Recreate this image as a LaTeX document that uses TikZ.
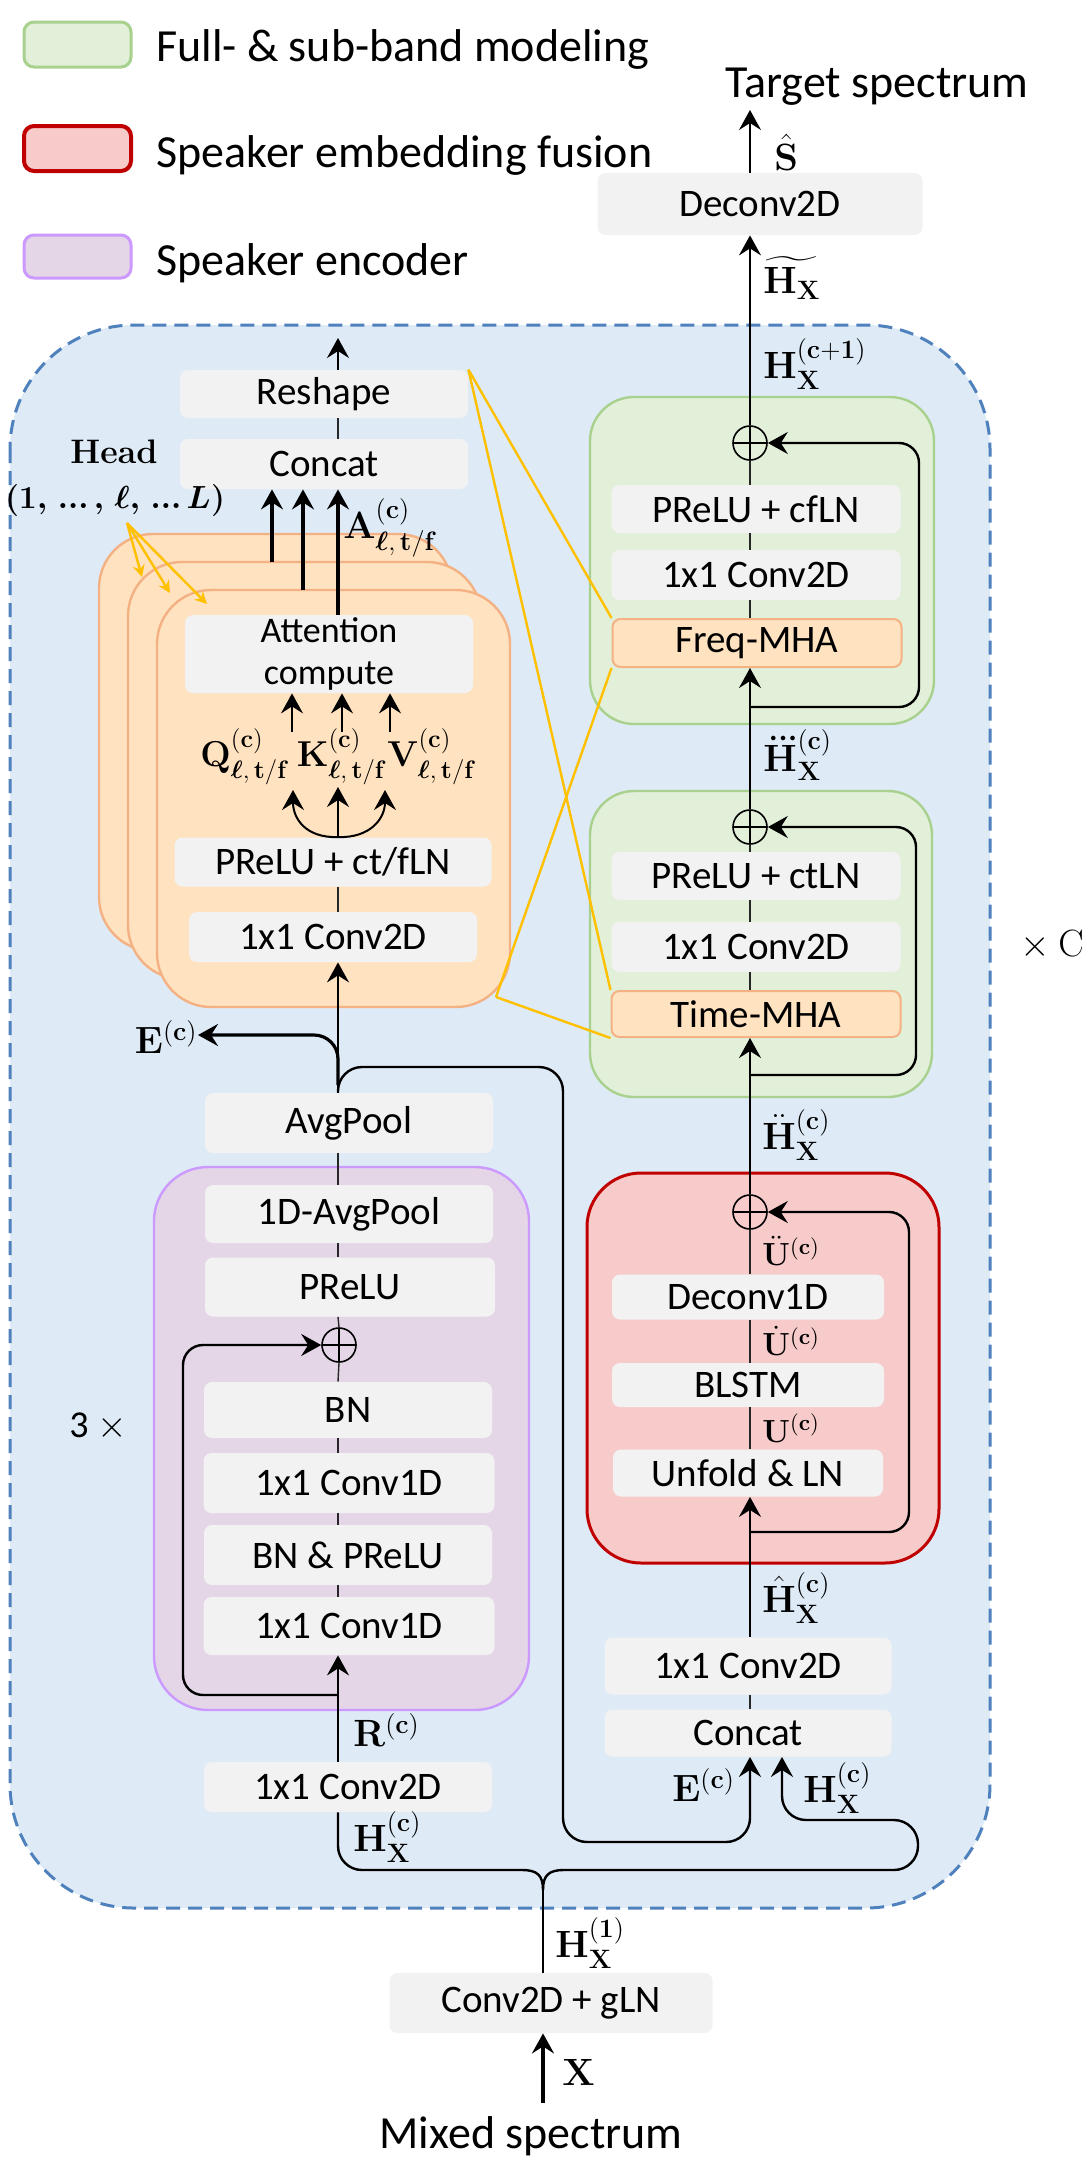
\documentclass[tikz,border=0pt]{standalone}
\usepackage{fix-cm}
\usepackage{amsmath}
\usepackage{bm}
\usepackage[no-math]{fontspec}
\setmainfont{Carlito}
\usetikzlibrary{arrows.meta}
\definecolor{boxgray}{HTML}{F2F2F2}
\definecolor{bgblue}{HTML}{DEEBF7}
\definecolor{dashblue}{HTML}{4F81BD}
\definecolor{grfill}{HTML}{E2F0D9}
\definecolor{grdraw}{HTML}{A9D18E}
\definecolor{rdfill}{HTML}{F8CBCB}
\definecolor{rddraw}{HTML}{C00000}
\definecolor{pufill}{HTML}{E4D5E7}
\definecolor{pudraw}{HTML}{CC99FF}
\definecolor{orfill}{HTML}{FFE2C0}
\definecolor{ordraw}{HTML}{F4B183}
\definecolor{yel}{HTML}{FFC000}
\newcommand{\HXc}[2]{#1{\mathbf{H}}_{\mathbf{X}}^{(\mathbf{#2})}}
\newcommand{\headrange}{$\bm{(1,\,...\,,\,\ell,\,...\,L)}$}
\begin{document}
\begin{tikzpicture}[x=0.5pt,y=-0.5pt,
  blk/.style={fill=boxgray, rounded corners=4pt, inner sep=0pt, text=black, font=\fontsize{19.5}{22}\selectfont},
  sz/.style 2 args={minimum width=#1*0.5pt, minimum height=#2*0.5pt},
  mha/.style={blk, fill=orfill, draw=ordraw, line width=1pt},
  lbl/.style={inner sep=0pt, anchor=west, font=\fontsize{19}{21}\selectfont},
  ulbl/.style={inner sep=0pt, anchor=west, font=\fontsize{16}{18}\selectfont},
  qkv/.style={inner sep=0pt, anchor=center, font=\fontsize{18}{20}\selectfont},
  leg/.style={inner sep=0pt, anchor=base west, font=\fontsize{23}{26}\selectfont},
  conn/.style={line width=0.7pt, draw=black!85},
  arr/.style={line width=1pt, -{Stealth[length=10pt,width=11pt,inset=3.5pt]}},
  tarr/.style={line width=1.6pt, -{Stealth[length=10pt,width=11pt,inset=3.5pt]}},
  skiparr/.style={line width=1.2pt, rounded corners=10pt, -{Stealth[length=10pt,width=11pt,inset=3.5pt]}},
  addop/.style={circle, draw, line width=0.8pt, minimum size=17pt, inner sep=0pt,
    path picture={\draw[line width=0.8pt] (path picture bounding box.north) -- (path picture bounding box.south) (path picture bounding box.west) -- (path picture bounding box.east);}},
  yl/.style={draw=yel, line width=1.2pt},
]
\fill[white] (0,0) rectangle (1086,2158);
\useasboundingbox (0,0) rectangle (1086,2158);

% big dashed background
\draw[fill=bgblue, draw=dashblue, line width=1.5pt, dash pattern=on 7pt off 4pt, rounded corners=62pt] (10,325) rectangle (990,1908);

% legend
\draw[fill=grfill, draw=grdraw, line width=1.5pt, rounded corners=5pt] (24,22) rectangle (131,67);
\draw[fill=rdfill, draw=rddraw, line width=2pt, rounded corners=5pt] (24,126) rectangle (131,171);
\draw[fill=pufill, draw=pudraw, line width=1.5pt, rounded corners=5pt] (24,235) rectangle (131,278);
\node[leg] (lg1) at (156,61) {Full- \& sub-band modeling};
\node[leg] (lg2) at (156,167) {Speaker embedding fusion};
\node[leg] (lg3) at (156,275) {Speaker encoder};

% regions
\draw[fill=grfill, draw=grdraw, line width=1.2pt, rounded corners=22pt] (590,397) rectangle (934,724);
\draw[fill=grfill, draw=grdraw, line width=1.2pt, rounded corners=22pt] (590,791) rectangle (932,1097);
\draw[fill=rdfill, draw=rddraw, line width=1.5pt, rounded corners=27pt] (587,1173) rectangle (939,1563);
\draw[fill=pufill, draw=pudraw, line width=1.2pt, rounded corners=27pt] (154,1167) rectangle (529,1710);
\draw[fill=orfill, draw=ordraw, line width=1.2pt, rounded corners=27pt] (99,534) rectangle (452,951);
\draw[fill=orfill, draw=ordraw, line width=1.2pt, rounded corners=27pt] (128,562) rectangle (481,979);
\draw[fill=orfill, draw=ordraw, line width=1.2pt, rounded corners=27pt] (157,590) rectangle (510,1007);

% column coordinates
\coordinate (Lx) at (338,0);
\coordinate (Rx) at (750,0);
\coordinate (Bx) at (543,0);
\coordinate (Hx) at (782,0);

% right column nodes
\node[blk, sz={325}{62}] (deconv) at (760,204) {Deconv2D};
\node[blk, sz={289}{48}] (preluF) at (756,509) {PReLU + cfLN};
\node[blk, sz={289}{50}] (convF) at (756,575) {1x1 Conv2D};
\node[mha, sz={289}{48}] (freq) at (757,643) {Freq-MHA};
\node[blk, sz={289}{48}] (preluT) at (756,876) {PReLU + ctLN};
\node[blk, sz={289}{50}] (convT) at (756,947) {1x1 Conv2D};
\node[mha, sz={289}{46}] (time) at (756,1014) {Time-MHA};
\node[blk, sz={272}{45}] (deconv1) at (748,1297) {Deconv1D};
\node[blk, sz={272}{44}] (blstm) at (748,1385) {BLSTM};
\node[blk, sz={270}{47}] (unfold) at (748,1473) {Unfold \& LN};
\node[blk, sz={287}{57}] (convR) at (748,1666) {1x1 Conv2D};
\node[blk, sz={287}{47}] (concatR) at (748,1733) {Concat};
\node[blk, sz={323}{60}] (gln) at (551,2003) {Conv2D + gLN};

% left column nodes
\node[blk, sz={288}{48}] (reshape) at (324,394) {Reshape};
\node[blk, sz={288}{50}] (concatL) at (324,464) {Concat};
\node[blk, sz={288}{78}, align=center, font=\fontsize{18}{21}\selectfont] (attn) at (329,654) {Attention\\compute};
\node[blk, sz={317}{49}] (prelu1) at (333,862) {PReLU + ct/fLN};
\node[blk, sz={288}{50}] (convA) at (333,937) {1x1 Conv2D};
\node[blk, sz={288}{60}] (avgpool) at (349,1123) {AvgPool};
\node[blk, sz={288}{58}] (avg1d) at (349,1214) {1D-AvgPool};
\node[blk, sz={290}{59}] (preluE) at (350,1287) {PReLU};
\node[blk, sz={288}{56}] (bn) at (348,1410) {BN};
\node[blk, sz={291}{60}] (c1d1) at (349,1483) {1x1 Conv1D};
\node[blk, sz={288}{60}] (bnprelu) at (348,1555) {BN \& PReLU};
\node[blk, sz={291}{58}] (c1d2) at (349,1626) {1x1 Conv1D};
\node[blk, sz={288}{50}] (conv2dL) at (348,1787) {1x1 Conv2D};

% adders
\node[addop] (pF) at (750,443) {};
\node[addop] (pT) at (750,827) {};
\node[addop] (pR) at (750,1212) {};
\node[addop] (pE) at (339,1345) {};

% texts
\node[leg, anchor=base] (tgt) at (877,97) {Target spectrum};
\node[leg, anchor=base] (mix) at (531,2148) {Mixed spectrum};

% named free ends
\coordinate (tgtin) at (750,110);
\coordinate (mixout) at (543,2103);
\coordinate (sF) at (750,707);
\coordinate (sT) at (750,1075);
\coordinate (sR) at (750,1532);
\coordinate (sE) at (338,1695);
\coordinate (rsOut) at (338,338);
\coordinate (t1) at (272,562);
\coordinate (t2) at (303,590);
\coordinate (t3) at (338,615);
\coordinate (apex) at (543,1890);

% right column connectors
\draw[arr] (deconv.north -| Rx) -- (tgtin);
\draw[arr] (pF.north) -- (deconv.south -| Rx);
\draw[conn] (pF.south) -- (preluF.north -| Rx);
\draw[conn] (preluF.south -| Rx) -- (convF.north -| Rx);
\draw[conn] (convF.south -| Rx) -- (freq.north -| Rx);
\draw[skiparr] (sF) -- (919,707) -- (919,443) -- (pF.east);
\draw[arr] (pT.north) -- (freq.south -| Rx);
\draw[conn] (pT.south) -- (preluT.north -| Rx);
\draw[conn] (preluT.south -| Rx) -- (convT.north -| Rx);
\draw[conn] (convT.south -| Rx) -- (time.north -| Rx);
\draw[skiparr] (sT) -- (916,1075) -- (916,827) -- (pT.east);
\draw[arr] (pR.north) -- (time.south -| Rx);
\draw[conn] (pR.south) -- (deconv1.north -| Rx);
\draw[conn] (deconv1.south -| Rx) -- (blstm.north -| Rx);
\draw[conn] (blstm.south -| Rx) -- (unfold.north -| Rx);
\draw[skiparr] (sR) -- (909,1532) -- (909,1212) -- (pR.east);
\draw[arr] (convR.north -| Rx) -- (unfold.south -| Rx);
\draw[conn] (concatR.north -| Rx) -- (convR.south -| Rx);

% E path and H path into right concat
\draw[skiparr, rounded corners=12pt] (avgpool.north -| Lx) -- (338,1067) -- (563,1067) -- (563,1842) -- (750,1842) -- (concatR.south -| Rx);
\draw[line width=1.2pt, -{Stealth[length=10pt,width=11pt,inset=3.5pt]}] (apex) .. controls (543,1875) and (549,1870) .. (564,1870) [rounded corners=12pt] -- (918,1870) -- (918,1820) -- (782,1820) -- (concatR.south -| Hx);
\draw[line width=1.2pt] (conv2dL.south -| Lx) [rounded corners=12pt] -- (338,1870) [sharp corners] -- (522,1870) .. controls (537,1870) and (543,1875) .. (apex);
\draw[line width=1.2pt] (apex) -- (gln.north -| Bx);
\draw[tarr] (mixout) -- (gln.south -| Bx);

% left column connectors
\draw[arr] (reshape.north -| Lx) -- (rsOut);
\draw[conn] (reshape.south -| Lx) -- (concatL.north -| Lx);
\draw[tarr] (t1) -- (concatL.south -| t1);
\draw[tarr] (t2) -- (concatL.south -| t2);
\draw[tarr] (t3) -- (concatL.south -| t3);
\coordinate (q0) at (292,732); \coordinate (k0) at (342,732); \coordinate (v0) at (390,732);
\draw[arr] (q0) -- (attn.south -| q0);
\draw[arr] (k0) -- (attn.south -| k0);
\draw[arr] (v0) -- (attn.south -| v0);
\coordinate (qi) at (293,790); \coordinate (ki) at (338,787); \coordinate (vi) at (385,790);
\draw[arr] (prelu1.north -| Lx) .. controls (305,838) and (293,818) .. (qi);
\draw[arr] (prelu1.north -| Lx) -- (ki);
\draw[arr] (prelu1.north -| Lx) .. controls (371,838) and (385,818) .. (vi);
\draw[conn] (prelu1.south -| Lx) -- (convA.north -| Lx);
\draw[arr] (avgpool.north -| Lx) -- (convA.south -| Lx);
\node[lbl, anchor=east] (Elbl) at (198,1037) {$\mathbf{E}^{(\mathbf{c})}$};
\coordinate (eb0) at (338,1085);
\coordinate (eb1) at (338,1035);
\draw[tarr, rounded corners=12pt] (eb0) -- (eb1) -- (Elbl.east |- eb1);
\draw[conn] (avgpool.south -| Lx) -- (avg1d.north -| Lx);
\draw[conn] (avg1d.south -| Lx) -- (preluE.north -| Lx);
\draw[conn] (preluE.south -| Lx) -- (pE.north);
\draw[conn] (pE.south) -- (bn.north -| Lx);
\draw[conn] (bn.south -| Lx) -- (c1d1.north -| Lx);
\draw[conn] (c1d1.south -| Lx) -- (bnprelu.north -| Lx);
\draw[conn] (bnprelu.south -| Lx) -- (c1d2.north -| Lx);
\draw[arr] (conv2dL.north -| Lx) -- (c1d2.south -| Lx);
\draw[skiparr] (sE) -- (183,1695) -- (183,1345) -- (pE.west);

% labels right column
\node[lbl] (Shat) at (774,152) {$\hat{\mathbf{S}}$};
\node[lbl] (Htil) at (763,278) {$\widetilde{\mathbf{H}_{\mathbf{X}}}$};
\node[lbl] (Hc1) at (763,364) {$\mathbf{H}_{\mathbf{X}}^{(\mathbf{c+1})}$};
\node[lbl] (H3) at (762,755) {$\HXc{\dddot}{c}$};
\node[lbl] (H2) at (762,1135) {$\HXc{\ddot}{c}$};
\node[ulbl] (U2) at (762,1251) {$\ddot{\mathbf{U}}^{(\mathbf{c})}$};
\node[ulbl] (U1) at (762,1341) {$\dot{\mathbf{U}}^{(\mathbf{c})}$};
\node[ulbl] (U0) at (762,1428) {$\mathbf{U}^{(\mathbf{c})}$};
\node[lbl] (Hh) at (762,1598) {$\HXc{\hat}{c}$};
\node[lbl] (Eb) at (672,1785) {$\mathbf{E}^{(\mathbf{c})}$};
\node[lbl] (Hb) at (803,1788) {$\mathbf{H}_{\mathbf{X}}^{(\mathbf{c})}$};
\node[lbl] (H1) at (555,1943) {$\mathbf{H}_{\mathbf{X}}^{(\mathbf{1})}$};
\node[lbl] (Xl) at (562,2072) {$\mathbf{X}$};

% labels left column
\node[lbl] (Al) at (343,528) {$\mathbf{A}^{(\mathbf{c})}_{\bm{\ell},\,\mathbf{t/f}}$};
\node[qkv] (Ql) at (245,757) {$\mathbf{Q}^{(\mathbf{c})}_{\bm{\ell},\,\mathbf{t/f}}$};
\node[qkv] (Kl) at (342,757) {$\mathbf{K}^{(\mathbf{c})}_{\bm{\ell},\,\mathbf{t/f}}$};
\node[qkv] (Vl) at (432,757) {$\mathbf{V}^{(\mathbf{c})}_{\bm{\ell},\,\mathbf{t/f}}$};
\node[lbl] (Rl) at (353,1730) {$\mathbf{R}^{(\mathbf{c})}$};
\node[lbl] (Hl) at (353,1837) {$\mathbf{H}_{\mathbf{X}}^{(\mathbf{c})}$};
\node[inner sep=0pt, font=\fontsize{17}{19}\selectfont] (head) at (114,452) {$\mathbf{Head}$};
\node[inner sep=0pt, font=\fontsize{16}{18}\selectfont] (hrng) at (115,500) {\headrange};
\node[inner sep=0pt, font=\fontsize{19}{21}\selectfont] (rep3) at (98,1427) {3 $\times$};
\node[inner sep=0pt, font=\fontsize{19}{21}\selectfont] (repC) at (1052,945) {$\times\ \mathrm{C}$};

% yellow zoom lines
\coordinate (hs) at (127,523);
\coordinate (ya) at (142,577); \coordinate (yb) at (170,593); \coordinate (yc) at (207,604);
\draw[yl, -{Stealth[length=6pt,width=6pt]}] (hs) -- (ya);
\draw[yl, -{Stealth[length=6pt,width=6pt]}] (hs) -- (yb);
\draw[yl, -{Stealth[length=6pt,width=6pt]}] (hs) -- (yc);
\coordinate (ofc) at (496,997);
\draw[yl] (reshape.north east) -- (freq.north west);
\draw[yl] (reshape.north east) -- (time.north west);
\draw[yl] (ofc) -- (freq.south west);
\draw[yl] (ofc) -- (time.south west);
\end{tikzpicture}
\end{document}
